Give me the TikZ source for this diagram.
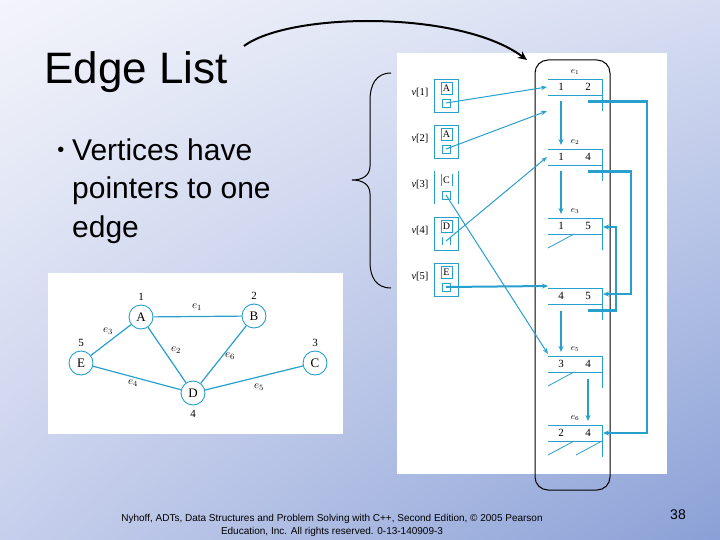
\documentclass[tikz,border=0pt]{standalone}
\usepackage{fontspec}
\setsansfont{Liberation Sans}
\newfontfamily\tms{Liberation Serif}
\usetikzlibrary{arrows.meta,shadings}
\definecolor{ptr}{RGB}{40,160,205}
\definecolor{bgUL}{RGB}{244,245,251}
\definecolor{bgUR}{RGB}{214,221,242}
\definecolor{bgLL}{RGB}{198,207,236}
\definecolor{bgLR}{RGB}{138,160,214}
\tikzset{
  slide/.style={font=\sffamily\fontsize{30}{30}\selectfont, anchor=base west, inner sep=0pt},
  rec/.style={draw=ptr, line width=0.8pt},
  val/.style={font=\tms\fontsize{11}{11}\selectfont, inner sep=0pt},
  elab/.style={font=\tms\itshape\fontsize{9}{9}\selectfont, inner sep=0pt},
  vlab/.style={font=\tms\fontsize{10.5}{10.5}\selectfont, inner sep=0pt},
  thickp/.style={draw=ptr, line width=2.2pt, -{Stealth[length=6pt,width=5pt]}},
  thinp/.style={draw=ptr, line width=1pt, -{Stealth[length=6pt,width=4.5pt]}},
  nullp/.style={draw=ptr, line width=0.8pt},
  gnode/.style={circle, draw=ptr, line width=0.9pt, fill=white, minimum size=24pt, inner sep=0pt, font=\tms\fontsize{13}{13}\selectfont},
  gedge/.style={draw=ptr, line width=1.2pt},
  glab/.style={font=\tms\fontsize{11}{11}\selectfont, inner sep=0pt},
  gelab/.style={font=\tms\itshape\fontsize{11}{11}\selectfont, inner sep=0pt},
  foot/.style={font=\sffamily\fontsize{10}{10}\selectfont, inner sep=0pt, anchor=base},
}
\begin{document}
\begin{tikzpicture}[x=1pt,y=-1pt]
\useasboundingbox (0,0) rectangle (720,540);
\shade[upper left=bgUL, upper right=bgUR, lower left=bgLL, lower right=bgLR] (0,0) rectangle (720,540);

% title and bullet
\node[font=\sffamily\fontsize{44}{44}\selectfont, anchor=base west, inner sep=0pt] (title) at (44,84) {Edge List};
\node[font=\sffamily\fontsize{20}{20}\selectfont, inner sep=0pt] (bullet) at (61,152) {•};
\node[slide] (l1) at (72,161) {Vertices have};
\node[slide] (l2) at (72,199) {pointers to one};
\node[slide] (l3) at (72,237) {edge};

% white panels
\fill[white] (397,53) rectangle (667,474);
\fill[white] (48,273) rectangle (343,434);

% brace
\draw[black, line width=1pt] (391,73) .. controls (376,73) and (370,85) .. (370,100) -- (370,166)
  .. controls (370,176) and (362,180) .. (352,180) .. controls (362,180) and (370,184) .. (370,194)
  -- (370,262) .. controls (370,277) and (376,288) .. (391,288);

% curved arrow
\coordinate (cstart) at (244,46);
\coordinate (cend) at (527,60);
\draw[black, line width=2pt, -{Stealth[length=9pt,width=8pt]}] (cstart) .. controls (290,12) and (460,10) .. (cend);

% rounded black frame
\draw[black, line width=1pt, rounded corners=13pt] (535,60) rectangle (610,490);

% vertex boxes
\foreach \i/\t/\L in {1/79/A,2/125/A,3/171/C,4/217/D,5/263/E}{
  \node[vlab] (vl\i) at (420,\t+14) {\textit{v}[\i]};
  \node[val, font=\tms\fontsize{10}{10}\selectfont] (vL\i) at (446.5,\t+9) {\L};
  \coordinate (p\i) at (446,\t+24);
}
\foreach \i/\t in {1/79,2/125,5/263}{
  \draw[rec] (434,\t) rectangle (458,\t+33);
  \draw[rec] (441,\t+3) rectangle (452,\t+15);
  \draw[rec] (442,\t+20) rectangle (450,\t+28);
}
% v[3]: only verticals
\draw[rec] (434,171) -- (434,204); \draw[rec] (458,171) -- (458,204);
\draw[rec] (441,174) -- (441,186); \draw[rec] (452,174) -- (452,186);
\draw[rec] (442,191) rectangle (450,199);
% v[4]
\draw[rec] (434,217) rectangle (458,250);
\draw[rec] (441,220) rectangle (452,232);
\draw[rec] (442,237) -- (442,245); \draw[rec] (450,237) -- (450,245);

% edge records
\foreach \k/\t/\a/\b in {1/79/1/2,2/149/1/4,3/218/1/5,4/288/4/5,5/356/3/4,6/425/2/4}{
  \draw[rec] (548,\t) -- (602,\t) -- (602,\t+32);
  \draw[rec] (548,\t+16) -- (602,\t+16);
  \node[val] (a\k) at (561,\t+8) {\a};
  \node[val] (b\k) at (588,\t+8) {\b};
  \coordinate (L\k) at (561,\t+22.5);
  \coordinate (R\k) at (588,\t+22.5);
  \coordinate (top\k) at (561,\t-4);
  \coordinate (rtop\k) at (588,\t-4);
  \coordinate (side\k) at (603,\t+8);
}
\foreach \k/\t in {1/79,2/149,3/218,5/356,6/425}{
  \node[elab] (el\k) at (575,\t-7) {$e_{\k}$};
}

% edge-to-edge pointers
\draw[thickp] (L1) -- (top2);
\draw[thickp] (L2) -- (top3);
\draw[thickp] (L4) -- (top5);
\draw[thickp] (R5) -- (rtop6);
\draw[thickp] (R1) -- (647,101.5) -- (647,433) -- (side6);
\draw[thickp] (R2) -- (631,171.5) -- (631,294) -- (603,294);
\draw[thickp] (R4) -- (616,310.5) -- (616,227) -- (603,227);

% null pointers
\draw[nullp] (548,248) -- (574,234);
\draw[nullp] (548,386) -- (574,372);
\draw[nullp] (548,455) -- (574,441);
\draw[nullp] (576,455) -- (602,441);

% vertex pointers
\coordinate (t1) at (547,87);
\coordinate (t2) at (547,111);
\coordinate (t3) at (548,354);
\coordinate (t4) at (547,157);
\coordinate (t5) at (548,286);
\draw[thinp] (p1) -- (t1);
\draw[thinp] (p2) -- (t2);
\draw[thinp] (p3) -- (t3);
\draw[thinp] (p4) -- (t4);
\draw[thickp, line width=2pt] (p5) -- (t5);

% graph
\node[gnode] (A) at (141,317) {A};
\node[gnode] (B) at (254,316) {B};
\node[gnode] (E) at (81,363) {E};
\node[gnode] (D) at (193,393) {D};
\node[gnode] (C) at (315,363) {C};
\draw[gedge] (A) -- (B);
\draw[gedge] (A) -- (D);
\draw[gedge] (A) -- (E);
\draw[gedge] (E) -- (D);
\draw[gedge] (B) -- (D);
\draw[gedge] (D) -- (C);
\node[glab] (n1) at (141,297) {1};
\node[glab] (n2) at (254,296) {2};
\node[glab] (n5) at (81,343) {5};
\node[glab] (n3) at (315,343) {3};
\node[glab] (n4) at (193,414) {4};
\node[gelab] (ge1) at (197,307) {$e_1$};
\node[gelab] (ge3) at (108,331) {$e_3$};
\node[gelab] (ge2) at (176,350) {$e_2$};
\node[gelab] (ge6) at (230,356) {$e_6$};
\node[gelab] (ge4) at (133,383) {$e_4$};
\node[gelab] (ge5) at (259,387) {$e_5$};

% footer
\node[foot] (f1) at (332,521) {Nyhoff, ADTs, Data Structures and Problem Solving with C++, Second Edition, © 2005 Pearson};
\node[foot] (f2) at (332,534) {Education, Inc. All rights reserved. 0-13-140909-3};
\node[font=\sffamily\fontsize{14}{14}\selectfont, inner sep=0pt] (pg) at (678,515) {38};
\end{tikzpicture}
\end{document}
